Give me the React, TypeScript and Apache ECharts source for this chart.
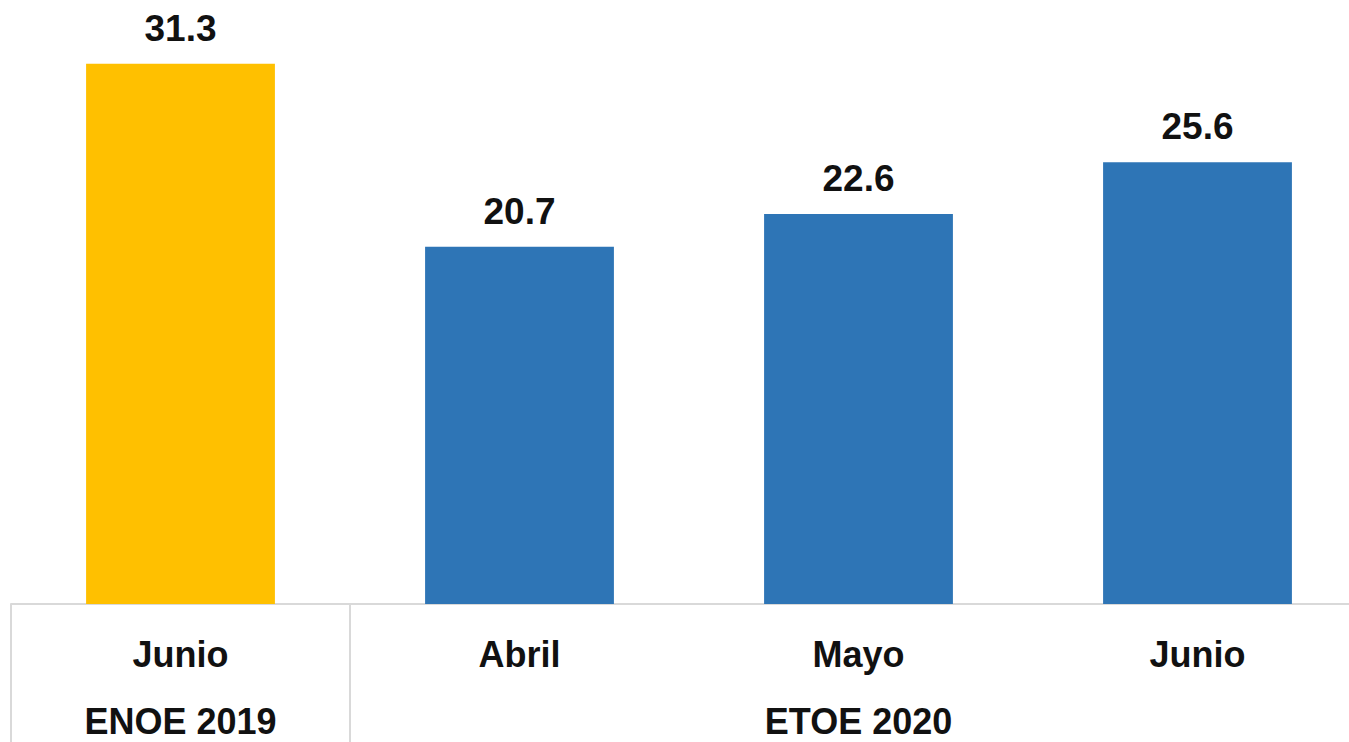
import React, { useEffect, useRef } from "react";
import * as echarts from "echarts";

const categories = ["Junio\nENOE 2019", "Abril", "Mayo\nETOE 2020", "Junio"];
const values = [31.3, 20.7, 22.6, 25.6];
const barColors = ["#FFC000", "#2E75B6", "#2E75B6", "#2E75B6"];

export default function App() {
  const ref = useRef<HTMLDivElement>(null);
  useEffect(() => {
    if (!ref.current) return;
    const chart = echarts.init(ref.current, undefined, { renderer: "svg" });
    chart.setOption({
      animation: false,
      backgroundColor: "#ffffff",
      grid: {
        left: 11,
        top: 0,
        width: 1356,
        height: 604,
        containLabel: false,
        outerBoundsMode: "none",
      },
      xAxis: {
        type: "category",
        data: categories,
        boundaryGap: true,
        axisLine: { show: true, lineStyle: { color: "#d9d9d9", width: 2 } },
        axisTick: {
          show: true,
          alignWithLabel: false,
          length: 150,
          interval: (i: number) => i < 2,
          lineStyle: { color: "#d9d9d9", width: 2 },
        },
        axisLabel: {
          interval: 0,
          margin: 17,
          color: "#111111",
          fontFamily: "Liberation Sans",
          fontWeight: "bold",
          fontSize: 36,
          lineHeight: 67,
        },
      },
      yAxis: {
        type: "value",
        min: 0,
        max: 35,
        show: false,
        splitLine: { show: false },
      },
      series: [
        {
          type: "bar",
          barWidth: "55.7%",
          data: values.map((v, i) => ({ value: v, itemStyle: { color: barColors[i] } })),
          label: {
            show: true,
            position: "top",
            distance: 17,
            color: "#111111",
            fontFamily: "Liberation Sans",
            fontWeight: "bold",
            fontSize: 37,
            formatter: (p: any) => p.value.toFixed(1),
          },
        },
      ],
    });
    return () => chart.dispose();
  }, []);
  return (
    <div
      ref={ref}
      style={{ position: "absolute", left: 0, top: 0, width: 1349, height: 742 }}
    />
  );
}
